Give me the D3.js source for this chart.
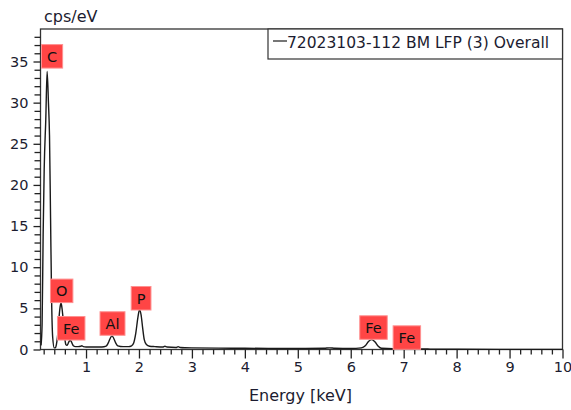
<!DOCTYPE html>
<html>
<head>
<meta charset="utf-8">
<script src="https://cdn.jsdelivr.net/npm/d3@7"></script>
<style>
  html, body { margin: 0; padding: 0; background: #fff; }
  svg { display: block; }
  text { font-family: "DejaVu Sans", "Open Sans", sans-serif; }
</style>
</head>
<body>
<svg id="chart" width="571" height="410"></svg>
<script>
// ---- data ----
const energy = [0.15,0.17,0.19,0.21,0.24,0.265,0.29,0.31,0.33,0.35,0.37,0.40,0.42,0.44,0.46,0.48,0.50,0.52,0.53,0.54,0.56,0.58,0.60,0.62,0.64,0.66,0.68,0.70,0.72,0.74,0.76,0.80,0.85,0.90,0.92,0.95,1.00,1.10,1.20,1.30,1.38,1.42,1.46,1.49,1.52,1.56,1.60,1.70,1.80,1.86,1.90,1.94,1.98,2.01,2.04,2.07,2.10,2.14,2.20,2.30,2.45,2.49,2.53,2.70,2.74,2.78,3.00,3.50,4.00,4.50,5.00,5.50,5.60,5.70,6.00,6.20,6.28,6.34,6.40,6.46,6.52,6.58,6.80,7.00,7.06,7.12,7.50,8.00,9.00,10.0];
const cps    = [0.5,3,14,22,28,33.8,30,26,16,6,1.5,0.2,0.2,0.6,1.5,3.0,4.6,5.5,5.6,5.3,4.2,2.6,1.3,0.6,0.5,0.7,1.0,1.1,1.0,0.7,0.45,0.35,0.35,0.4,0.45,0.35,0.3,0.3,0.3,0.3,0.4,0.8,1.4,1.65,1.4,0.8,0.45,0.35,0.35,0.45,0.8,2.0,3.9,4.85,4.2,2.6,1.2,0.6,0.4,0.35,0.3,0.4,0.3,0.25,0.35,0.25,0.2,0.17,0.15,0.13,0.12,0.15,0.2,0.15,0.12,0.2,0.5,1.0,1.2,0.9,0.4,0.15,0.1,0.15,0.25,0.1,0.05,0.03,0.02,0.02];

const labelNames  = ["C","O","Fe","Al","P","Fe","Fe"];
const labelEnergy = [0.33,0.54,0.72,1.50,2.04,6.43,7.06];
const labelLevel  = [34.2,5.7,1.15,1.73,4.8,1.24,0.02];

const xTicks = [1,2,3,4,5,6,7,8,9,10];
const yTicks = [0,5,10,15,20,25,30,35];
const seriesName = "72023103-112 BM LFP (3) Overall";
const xTitle = "Energy [keV]";
const yTitle = "cps/eV";

// ---- layout ----
const svg = d3.select("#chart");
const L = 40.5, R = 562.5, T = 29, B = 349.5;
const x = d3.scaleLinear().domain([0.14, 10]).range([L, R]);
const y = d3.scaleLinear().domain([0, 38.95]).range([B, T]);
const ink = "#222";
const tickInk = "#1c1c30";
const FONT = "'DejaVu Sans', sans-serif";

// frame
svg.append("rect").attr("x", L).attr("y", T).attr("width", R - L).attr("height", B - T)
  .attr("fill", "none").attr("stroke", "#333").attr("stroke-width", 1.3);

// x axis: minor ticks every 0.2, majors labelled
const xMinor = d3.range(0.2, 10.001, 0.2).filter(v => Math.abs(v - Math.round(v)) > 1e-6);
const xAxisMinor = d3.axisBottom(x).tickValues(xMinor).tickSize(5).tickFormat("");
const xAxisMajor = d3.axisBottom(x).tickValues(xTicks).tickSize(9).tickPadding(5).tickFormat(d3.format("d"));
const gxm = svg.append("g").attr("transform", `translate(0,${B})`).call(xAxisMinor);
const gx = svg.append("g").attr("transform", `translate(0,${B})`).call(xAxisMajor);
[gxm, gx].forEach(g => {
  g.select(".domain").remove();
  g.selectAll("line").attr("stroke", ink).attr("stroke-width", 1.3);
});
gx.selectAll("text").attr("font-size", 14.5).attr("fill", tickInk)
  .attr("font-family", FONT).attr("dy", "0.6em");

// y axis: minor ticks every 1
const yMinor = d3.range(1, 39, 1).filter(v => v % 5 !== 0);
const yAxisMinor = d3.axisLeft(y).tickValues(yMinor).tickSize(6).tickFormat("");
const yAxisMajor = d3.axisLeft(y).tickValues(yTicks).tickSize(7).tickPadding(5).tickFormat(d3.format("d"));
const gym = svg.append("g").attr("transform", `translate(${L},0)`).call(yAxisMinor);
const gy = svg.append("g").attr("transform", `translate(${L},0)`).call(yAxisMajor);
[gym, gy].forEach(g => {
  g.select(".domain").remove();
  g.selectAll("line").attr("stroke", ink).attr("stroke-width", 1.3);
});
gy.selectAll("text").attr("font-size", 14.5).attr("fill", tickInk)
  .attr("font-family", FONT);

// titles
svg.append("text").attr("x", 44).attr("y", 22).attr("font-size", 16).attr("fill", tickInk).text(yTitle);
svg.append("text").attr("x", 300.5).attr("y", 401).attr("text-anchor", "middle")
  .attr("font-size", 16).attr("fill", tickInk).text(xTitle);

// spectrum
const pts = energy.map((e, i) => [e, cps[i]]);
const line = d3.line().x(d => x(d[0])).y(d => y(d[1])).curve(d3.curveMonotoneX);
svg.append("path").datum(pts).attr("d", line)
  .attr("fill", "none").attr("stroke", "#1a1a1a").attr("stroke-width", 1.4);

// element label boxes
const boxH = 23.5, pad = 5.5;
labelNames.forEach((name, i) => {
  const g = svg.append("g");
  const t = g.append("text").attr("font-size", 14.5).attr("fill", "#111")
    .attr("font-family", "Roboto, 'DejaVu Sans', sans-serif")
    .attr("text-anchor", "middle").text(name);
  const w = t.node().getComputedTextLength() + 2 * pad;
  let cx = x(labelEnergy[i]);
  if (cx - w / 2 < L + 1) cx = L + 1 + w / 2;
  const bottom = y(labelLevel[i]);
  g.insert("rect", "text").attr("x", cx - w / 2).attr("y", bottom - boxH)
    .attr("width", w).attr("height", boxH)
    .attr("fill", "#ff4545").attr("stroke", "#ff9090").attr("stroke-width", 1);
  t.attr("x", cx).attr("y", bottom - boxH / 2 + 5.5);
});

// legend
svg.append("rect").attr("x", 268).attr("y", T).attr("width", R - 268).attr("height", 30)
  .attr("fill", "#fff").attr("stroke", "#333").attr("stroke-width", 1.2);
svg.append("line").attr("x1", 273).attr("x2", 287).attr("y1", 41).attr("y2", 41)
  .attr("stroke", "#1a1a1a").attr("stroke-width", 1.2);
svg.append("text").attr("x", 287).attr("y", 47.5).attr("font-size", 15.5).attr("fill", tickInk).text(seriesName);
</script>
</body>
</html>
